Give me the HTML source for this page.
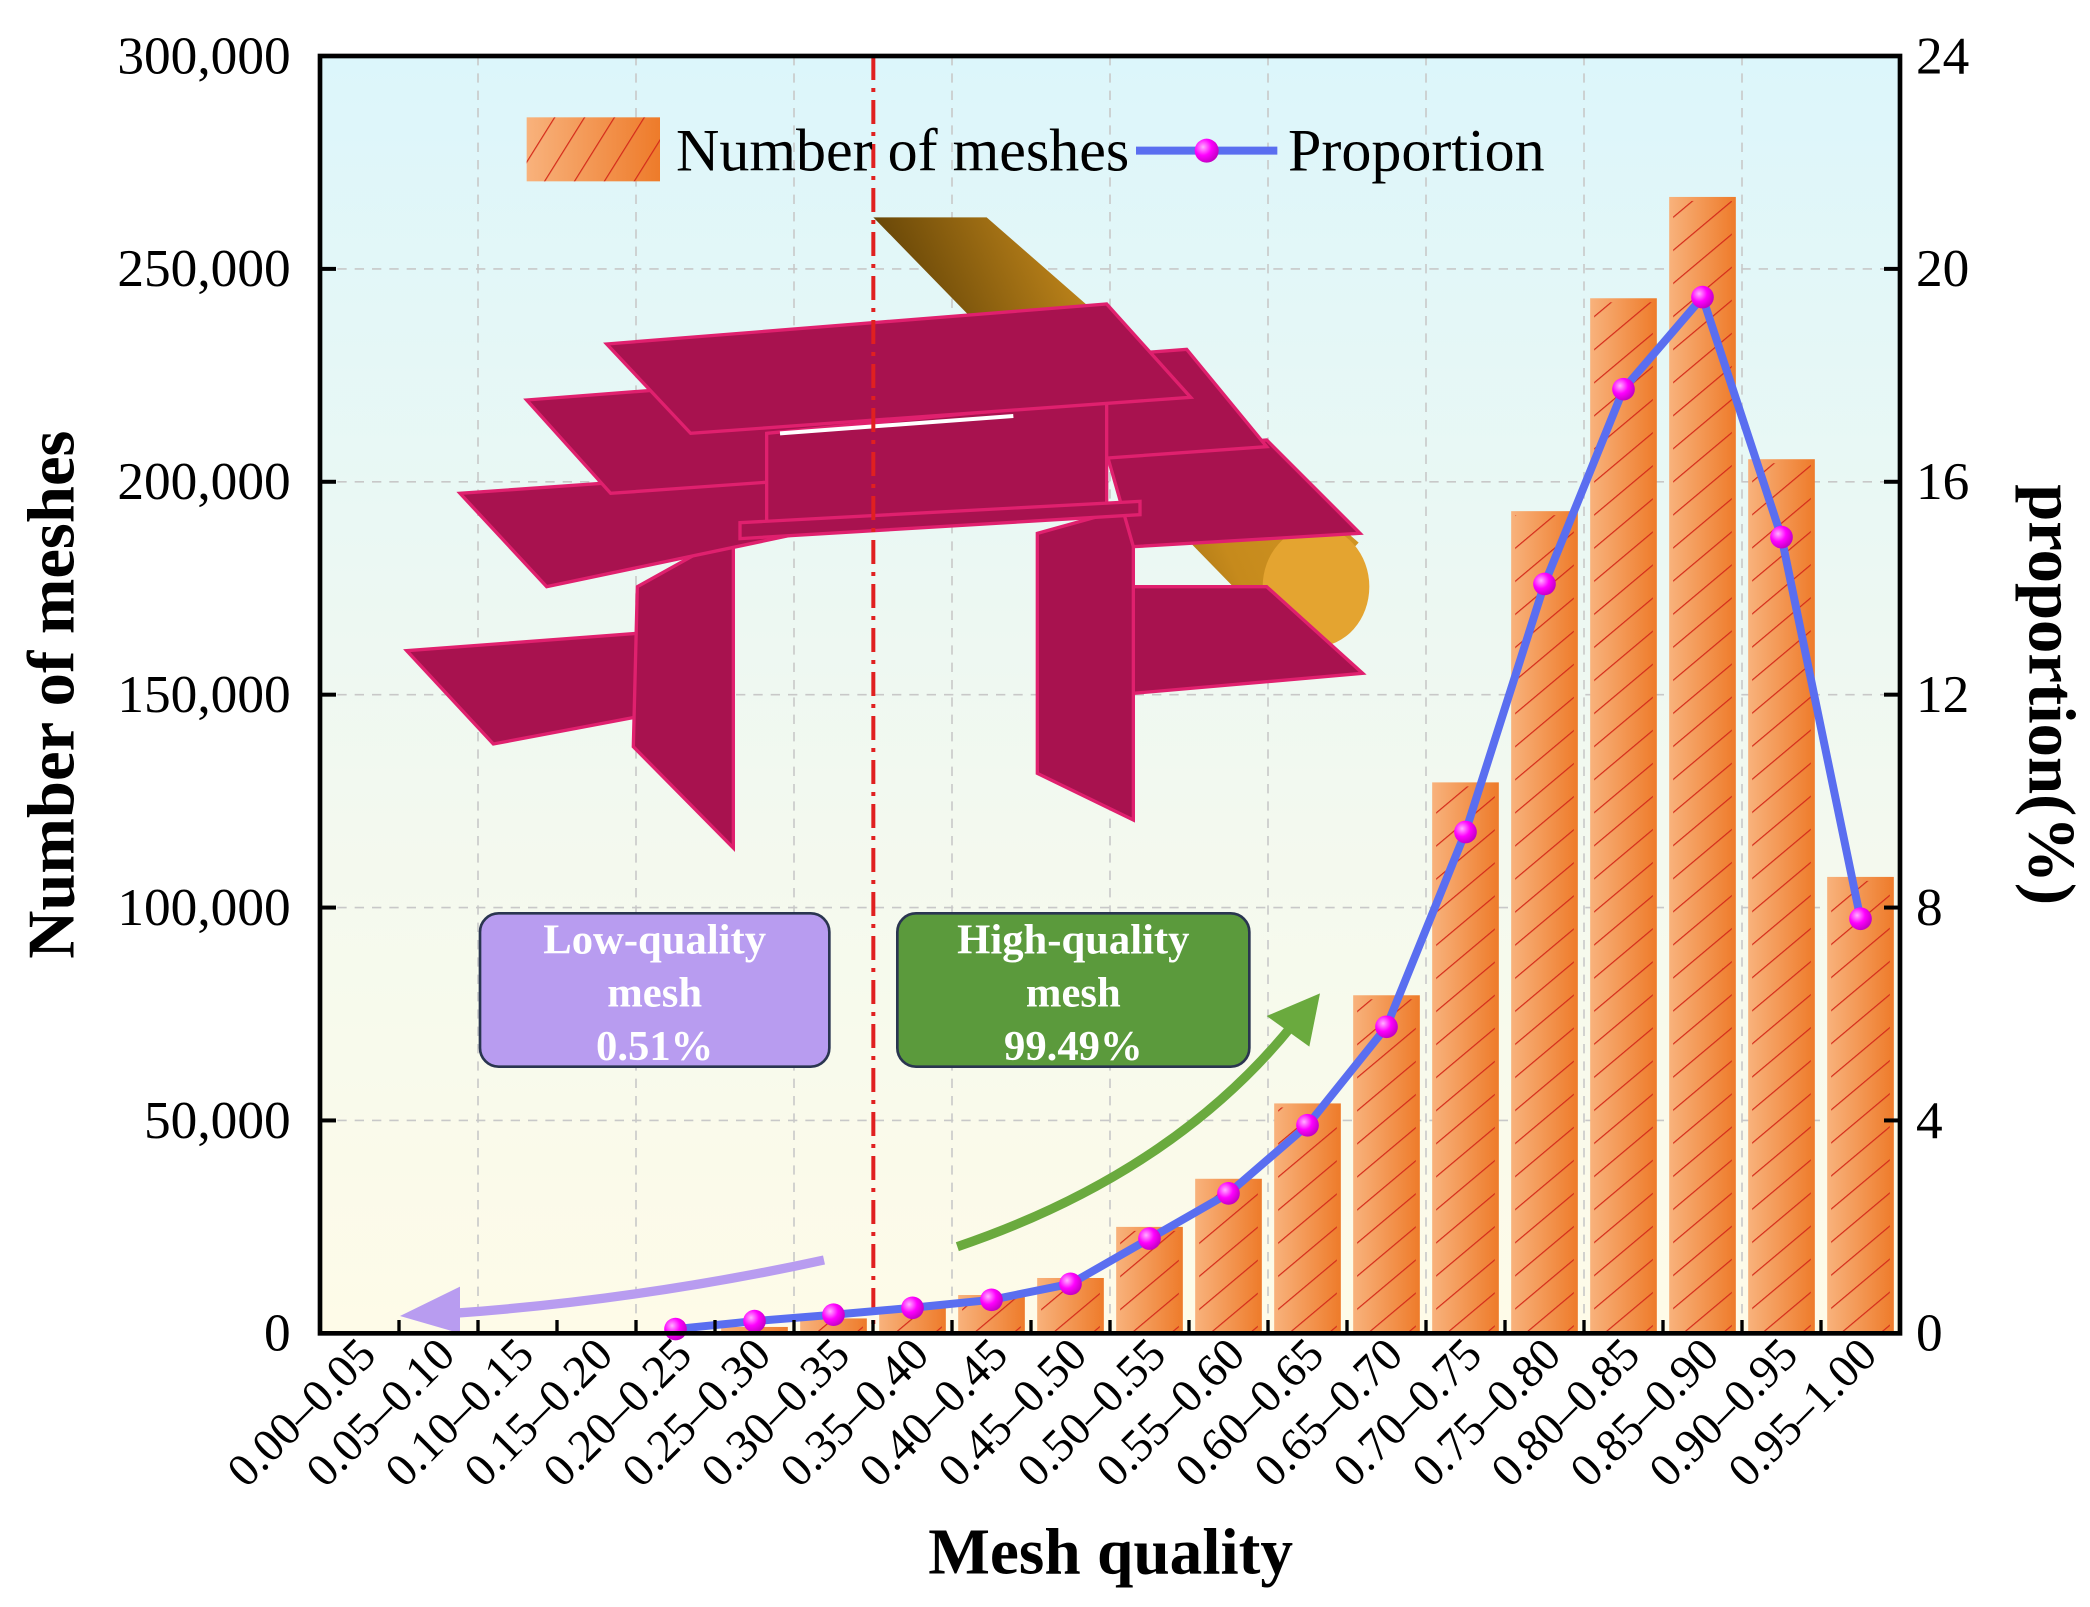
<!DOCTYPE html>
<html><head><meta charset="utf-8"><style>
html,body{margin:0;padding:0;background:#fff;}
svg{display:block;font-family:"Liberation Serif",serif;}
</style></head><body>
<svg id="chart" width="2090" height="1607" viewBox="0 0 1567.5 1205.25" preserveAspectRatio="none" xmlns="http://www.w3.org/2000/svg">
<defs>
<linearGradient id="bg" x1="0" y1="0" x2="0" y2="1"><stop offset="0" stop-color="#dcf6fb"/><stop offset="0.6" stop-color="#f3f9ef"/><stop offset="1" stop-color="#fefbe8"/></linearGradient>
<linearGradient id="barg" x1="0" y1="0" x2="1" y2="0"><stop offset="0" stop-color="#f8b27c"/><stop offset="1" stop-color="#ee7b2a"/></linearGradient>
<pattern id="hatch" width="19" height="19" patternUnits="userSpaceOnUse" patternTransform="rotate(50)"><line x1="0" y1="0" x2="0" y2="19" stroke="#d42a1a" stroke-width="1.8"/></pattern>
<pattern id="hatch2" width="19" height="19" patternUnits="userSpaceOnUse" patternTransform="rotate(32)"><line x1="0" y1="0" x2="0" y2="19" stroke="#d42a1a" stroke-width="1.8"/></pattern>
<radialGradient id="mk" cx="0.35" cy="0.35" r="0.7"><stop offset="0" stop-color="#ffb0ff"/><stop offset="0.5" stop-color="#ff00ff"/><stop offset="1" stop-color="#c000c0"/></radialGradient>
<linearGradient id="cyl" x1="0" y1="0" x2="1" y2="-0.4"><stop offset="0" stop-color="#6a4808"/><stop offset="0.35" stop-color="#c68a1c"/><stop offset="1" stop-color="#e0a630"/></linearGradient>
</defs>
<rect x="240" y="42" width="1185" height="958" fill="url(#bg)"/>
<g id="grid"></g>
<g id="illus">
<polygon points="655,163 740,163 1019,407 957,473" fill="url(#cyl)"/>
<ellipse cx="987" cy="440" rx="40" ry="45" fill="#e4a430"/>
<g fill="#a8124f" stroke="#e0206e" stroke-width="2.5">
<polygon points="850,440 950,440 1022,505 850,520"/>
<polygon points="305,488 545,470 545,525 370,558"/>
<polygon points="478,440 550,400 550,636 475,560"/>
<polygon points="778,400 850,380 850,615 778,580"/>
<polygon points="345,370 600,352 600,400 410,440"/>
<polygon points="830,340 950,330 1020,400 850,410"/>
<polygon points="395,300 890,262 950,335 458,370"/>
<polygon points="575,325 830,300 830,380 575,400"/>
<polygon points="555,392 855,376 855,386 555,404"/>
<polygon points="455,258 830,228 893,298 518,325"/>
</g>
<line x1="585" y1="325" x2="760" y2="312" stroke="#fff" stroke-width="3"/>
</g>
<g id="bars"></g>
<line x1="655" y1="42" x2="655" y2="1000" stroke="#e02020" stroke-width="3" stroke-dasharray="18,6,3,6"/>
<g id="line"></g>
<g>
<rect x="360" y="685" width="262" height="115" rx="14" fill="#b89cf0" stroke="#2a3550" stroke-width="2"/>
<text x="491" y="715" text-anchor="middle" fill="#fff" font-weight="bold" font-size="32">Low-quality</text>
<text x="491" y="755" text-anchor="middle" fill="#fff" font-weight="bold" font-size="32">mesh</text>
<text x="491" y="795" text-anchor="middle" fill="#fff" font-weight="bold" font-size="32">0.51%</text>
</g>
<g>
<rect x="673" y="685" width="264" height="115" rx="14" fill="#5b9a3c" stroke="#2a3550" stroke-width="2"/>
<text x="805" y="715" text-anchor="middle" fill="#fff" font-weight="bold" font-size="32">High-quality</text>
<text x="805" y="755" text-anchor="middle" fill="#fff" font-weight="bold" font-size="32">mesh</text>
<text x="805" y="795" text-anchor="middle" fill="#fff" font-weight="bold" font-size="32">99.49%</text>
</g>
<g>
<path d="M618,945 Q480,975 340,985" fill="none" stroke="#b89cf0" stroke-width="7"/>
<polygon points="300,987 345,965 345,1000" fill="#b89cf0"/>
</g>
<g>
<path d="M718,935 Q880,880 970,768" fill="none" stroke="#6aaa3e" stroke-width="7"/>
<polygon points="990,745 950,762 982,785" fill="#6aaa3e"/>
</g>
<g>
<rect x="395" y="88" width="100" height="48" fill="url(#barg)"/>
<rect x="395" y="88" width="100" height="48" fill="url(#hatch2)"/>
<text x="507" y="128" font-size="45">Number of meshes</text>
<line x1="852" y1="113" x2="958" y2="113" stroke="#5a6ef0" stroke-width="6"/>
<circle cx="905" cy="113" r="9" fill="url(#mk)"/>
<text x="966" y="128" font-size="45">Proportion</text>
</g>
<rect x="240" y="42" width="1185" height="958" fill="none" stroke="#000" stroke-width="3.5"/>
<g id="axes"></g>
<text transform="translate(55,521) rotate(-90)" text-anchor="middle" font-weight="bold" font-size="50">Number of meshes</text>
<text transform="translate(1522,521) rotate(90)" text-anchor="middle" font-weight="bold" font-size="50">proportion(%)</text>
<text x="833" y="1180" text-anchor="middle" font-weight="bold" font-size="49">Mesh quality</text>
</svg>
<script>
const categories=["0.00–0.05","0.05–0.10","0.10–0.15","0.15–0.20","0.20–0.25","0.25–0.30","0.30–0.35","0.35–0.40","0.40–0.45","0.45–0.50","0.50–0.55","0.55–0.60","0.60–0.65","0.65–0.70","0.70–0.75","0.75–0.80","0.80–0.85","0.85–0.90","0.90–0.95","0.95–1.00"];
const meshCounts=[0,0,0,0,500,1500,3500,6000,9000,13000,25000,36300,54000,79400,129400,193100,243100,266900,205300,107200];
const proportions=[null,null,null,null,0.08,0.23,0.35,0.48,0.63,0.93,1.78,2.63,3.91,5.76,9.42,14.08,17.74,19.47,14.96,7.79];
const leftTicks=[0,50000,100000,150000,200000,250000,300000];
const leftTickLabels=["0","50,000","100,000","150,000","200,000","250,000","300,000"];
const rightTicks=[0,4,8,12,16,20,24];
const NS="http://www.w3.org/2000/svg";
const L=240,R=1425,T=42,B=1000,bw=(R-L)/categories.length;
function xc(i){return L+(i+0.5)*bw;}
function yL(v){return B-(v/300000)*(B-T);}
function yR(v){return B-(v/24)*(B-T);}
function mk(tag,attrs,parent){const e=document.createElementNS(NS,tag);for(const k in attrs)e.setAttribute(k,attrs[k]);parent.appendChild(e);return e;}
const grid=document.getElementById('grid'),bars=document.getElementById('bars'),line=document.getElementById('line'),axes=document.getElementById('axes');
for(let i=2;i<categories.length;i+=2){const g=mk('line',{x1:L+i*bw,x2:L+i*bw,y1:T,y2:B,stroke:'#c8c8c8','stroke-width':1.2,'stroke-dasharray':'7,6'},grid);

}
leftTicks.forEach((v,i)=>{if(i>0&&i<leftTicks.length-1){const g=mk('line',{x1:L,x2:R,y1:yL(v),y2:yL(v),stroke:'#c8c8c8','stroke-width':1.2,'stroke-dasharray':'7,6'},grid);

}});
meshCounts.forEach((v,i)=>{if(v<=0)return;const x=xc(i)-25,y=yL(v),h=B-y;
const r=mk('rect',{x:x,y:y,width:50,height:h,fill:'url(#barg)'},bars);


const hr=mk('rect',{x:x+3,y:y+3,width:44,height:Math.max(0,h-3),fill:'url(#hatch)'},bars);

});
const pts=[];proportions.forEach((v,i)=>{if(v!==null)pts.push([xc(i),yR(v)]);});
const pl=mk('polyline',{points:pts.map(p=>p.join(',')).join(' '),fill:'none',stroke:'#5a6ef0','stroke-width':6,'stroke-linejoin':'round'},line);


pts.forEach(p=>{const c=mk('circle',{cx:p[0],cy:p[1],r:8.5,fill:'url(#mk)'},line);

});
leftTicks.forEach((v,i)=>{const y=yL(v);mk('line',{x1:L,x2:L+12,y1:y,y2:y,stroke:'#000','stroke-width':3},axes);
const t=mk('text',{x:218,y:y+13,'text-anchor':'end','font-size':40},axes);t.textContent=leftTickLabels[i];

});
rightTicks.forEach(v=>{const y=yR(v);mk('line',{x1:R-12,x2:R,y1:y,y2:y,stroke:'#000','stroke-width':3},axes);
const t=mk('text',{x:1437,y:y+13,'font-size':40},axes);t.textContent=String(v);

});
for(let i=1;i<categories.length;i++){mk('line',{x1:L+i*bw,x2:L+i*bw,y1:B,y2:B-10,stroke:'#000','stroke-width':2.5},axes);}
categories.forEach((c,i)=>{const x=xc(i)+14,y=1018;
const t=mk('text',{transform:`translate(${x},${y}) rotate(-45)`,'text-anchor':'end','font-size':35},axes);t.textContent=c;

});
</script>
</body></html>
